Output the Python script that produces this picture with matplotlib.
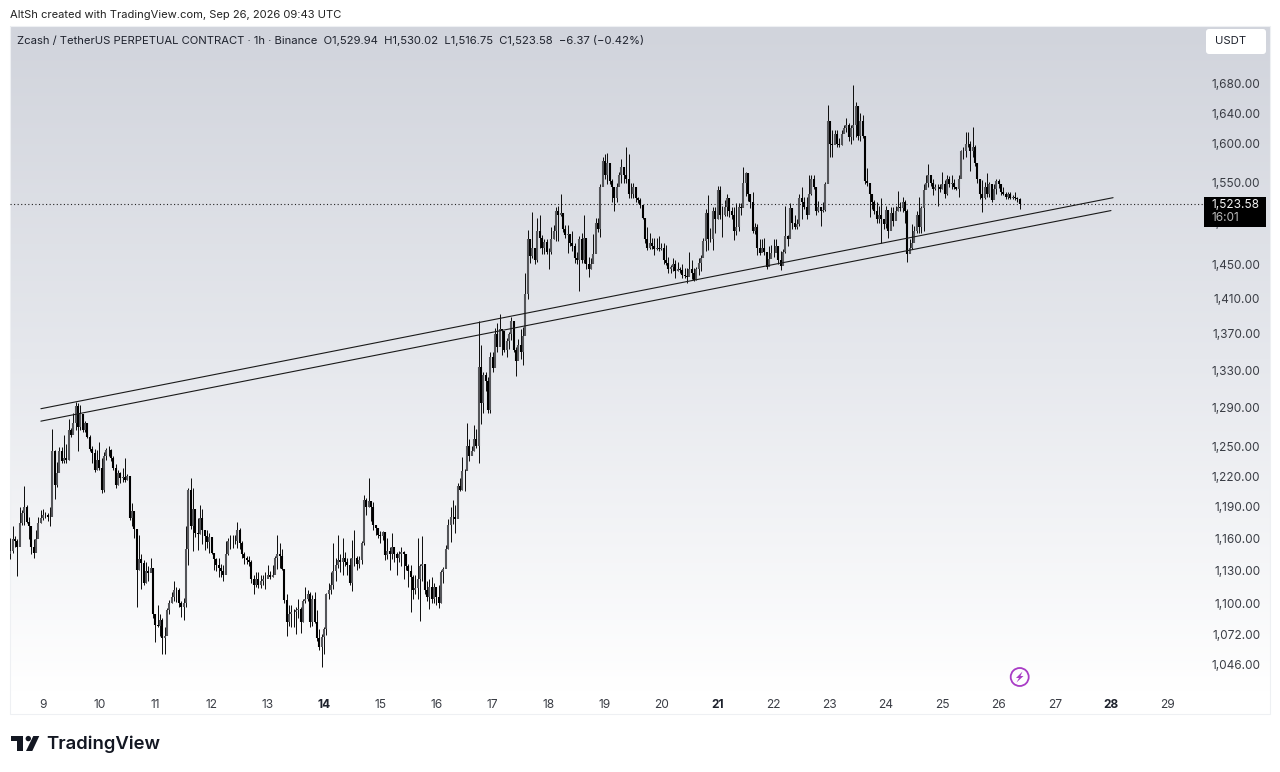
import numpy as np
import matplotlib
matplotlib.use("Agg")
import matplotlib.pyplot as plt
from matplotlib.patches import Polygon, Circle, FancyBboxPatch, Rectangle
from matplotlib.transforms import Affine2D
from matplotlib.ticker import FixedLocator, FixedFormatter, NullLocator

closes = [
 1148,1159,1157,1152,1174,1184,1190,1175,1171,1152,1146,1159,1174,1179,
 1182,1182,1180,1180,1245,1211,1223,1245,1235,1238,1236,1267,1262,1274,1292,1270,1283,1267,1274,1260,1247,1243,1226,1236,
 1228,1206,1240,1246,1246,1238,1228,1211,1223,1218,1219,1216,1220,1179,1186,1169,1130,1140,1137,1118,1129,1127,1132,1090,
 1081,1080,1085,1069,1071,1094,1100,1106,1112,1112,1100,1097,1100,1150,1206,1171,1188,1165,1164,1179,1168,1162,1156,1161,
 1146,1140,1135,1132,1129,1126,1145,1157,1157,1157,1157,1168,1155,1145,1141,1139,1138,1122,1116,1122,1116,1120,1122,1122,
 1126,1124,1126,1141,1145,1143,1131,1103,1083,1090,1092,1092,1094,1095,1083,1102,1104,1108,1083,1104,1083,1069,1061,1070,
 1077,1108,1112,1116,1129,1135,1139,1138,1141,1138,1135,1118,1141,1141,1136,1139,1155,1197,1190,1196,1190,1172,1170,1163,
 1162,1166,1144,1148,1145,1152,1145,1141,1145,1147,1145,1134,1129,1124,1112,1114,1122,1134,1136,1112,1106,1115,1104,1115,
 1106,1100,1128,1131,1150,1172,1180,1180,1178,1210,1206,1225,1225,1250,1240,1245,1258,1250,1334,1295,1325,1318,1288,1345,
 1332,1370,1355,1375,1373,1352,1362,1370,1385,1352,1340,1358,1350,1368,1415,1480,1460,1470,1455,1490,1482,1470,1477,1465,
 1465,1480,1490,1515,1510,1512,1492,1485,1486,1476,1472,1458,1455,1480,1455,1482,1450,1445,1450,1462,1500,1492,1545,1578,
 1560,1575,1552,1545,1530,1545,1560,1570,1560,1555,1535,1535,1545,1530,1528,1522,1506,1480,1470,1475,1472,1468,1470,1468,
 1470,1455,1452,1445,1447,1450,1442,1445,1443,1438,1436,1435,1445,1440,1432,1445,1452,1458,1478,1512,1480,1480,1515,1505,
 1540,1510,1510,1520,1530,1515,1510,1490,1495,1520,1518,1550,1562,1535,1525,1490,1495,1470,1463,1470,1465,1447,1456,1463,
 1463,1472,1455,1448,1465,1484,1480,1518,1500,1495,1498,1530,1525,1520,1510,1535,1555,1545,1515,1520,1515,1516,1548,1630,
 1600,1598,1612,1600,1598,1612,1620,1625,1608,1620,1625,1650,1610,1630,1610,1552,1550,1535,1525,1515,1505,1510,1505,1498,
 1516,1490,1512,1502,1515,1520,1518,1525,1515,1462,1470,1475,1490,1510,1495,1518,1540,1550,1560,1550,1542,1545,1545,1542,
 1548,1535,1555,1548,1550,1545,1542,1555,1590,1590,1600,1600,1590,1595,1575,1555,1535,1530,1545,1535,1548,1528,1542,1552,
 1548,1538,1536,1532,1535,1531,1532,1530,1529.94,1523.58,
]
highs = [
 1160,1171,1162,1159,1190,1187,1210,1192,1180,1160,1159,1168,1180,1187,
 1188,1185,1184,1190,1268,1246,1234,1249,1249,1262,1252,1278,1269,1285,1296,1295,1293,1281,1276,1272,1262,1250,1247,1246,
 1254,1238,1244,1248,1250,1247,1240,1232,1226,1224,1228,1238,1222,1220,1194,1186,1168,1163,1145,1139,1138,1134,1141,1132,
 1090,1098,1090,1087,1079,1096,1103,1110,1120,1115,1114,1102,1105,1171,1208,1218,1208,1188,1179,1192,1188,1168,1168,1165,
 1160,1143,1141,1141,1136,1135,1157,1160,1163,1163,1163,1175,1170,1157,1147,1143,1143,1139,1126,1128,1128,1126,1126,1128,
 1135,1129,1135,1143,1163,1155,1150,1131,1108,1098,1098,1095,1097,1104,1097,1104,1115,1112,1110,1107,1110,1094,1077,1073,
 1079,1109,1118,1128,1155,1141,1163,1145,1160,1147,1141,1141,1158,1168,1143,1143,1157,1201,1199,1218,1196,1195,1172,1168,
 1167,1167,1160,1160,1152,1165,1152,1147,1148,1152,1148,1137,1136,1135,1126,1126,1160,1136,1162,1130,1120,1122,1124,1118,
 1115,1116,1130,1133,1153,1178,1190,1197,1192,1213,1218,1239,1227,1274,1258,1250,1272,1268,1385,1358,1328,1328,1323,1350,
 1350,1377,1382,1393,1376,1367,1365,1372,1389,1384,1355,1364,1376,1378,1440,1491,1479,1513,1467,1506,1510,1485,1480,1480,
 1470,1495,1497,1519,1521,1535,1510,1497,1497,1484,1490,1475,1465,1484,1488,1510,1482,1459,1458,1486,1506,1506,1548,1582,
 1587,1588,1566,1555,1536,1550,1564,1580,1566,1595,1586,1550,1550,1542,1532,1530,1522,1505,1495,1488,1482,1482,1482,1484,
 1475,1475,1473,1459,1449,1457,1455,1453,1447,1451,1446,1446,1465,1455,1446,1447,1457,1461,1481,1517,1534,1494,1519,1519,
 1546,1546,1521,1528,1536,1528,1519,1519,1524,1524,1524,1570,1564,1562,1536,1538,1500,1498,1480,1480,1482,1461,1472,1473,
 1480,1480,1468,1466,1468,1521,1485,1524,1515,1509,1505,1535,1545,1532,1532,1560,1560,1560,1543,1527,1520,1526,1551,1651,
 1630,1618,1618,1618,1607,1618,1625,1634,1627,1625,1678,1655,1650,1640,1638,1608,1568,1543,1532,1528,1526,1521,1530,1503,
 1521,1513,1519,1519,1521,1539,1526,1532,1528,1517,1480,1498,1496,1515,1532,1521,1548,1560,1573,1555,1555,1548,1548,1548,
 1563,1553,1560,1558,1560,1555,1545,1560,1592,1596,1615,1615,1603,1622,1598,1573,1553,1553,1551,1562,1551,1534,1548,1555,
 1555,1548,1545,1538,1538,1538,1534,1538,1532,1530.02,
]
lows = [
 1140,1146,1152,1125,1171,1172,1172,1174,1159,1145,1141,1154,1163,1174,
 1177,1179,1176,1171,1185,1198,1209,1228,1233,1233,1233,1236,1260,1265,1267,1245,1267,1265,1265,1259,1245,1233,1224,1226,
 1226,1203,1204,1236,1240,1235,1226,1208,1211,1213,1214,1214,1216,1177,1171,1160,1097,1130,1113,1116,1118,1120,1130,1087,
 1066,1079,1071,1055,1055,1075,1090,1100,1102,1101,1097,1088,1085,1097,1135,1169,1148,1161,1149,1164,1154,1149,1151,1146,
 1145,1130,1129,1124,1124,1120,1130,1144,1150,1151,1154,1151,1150,1141,1136,1136,1134,1118,1108,1115,1114,1114,1116,1113,
 1124,1122,1124,1132,1131,1132,1130,1100,1071,1080,1079,1079,1073,1087,1074,1083,1100,1102,1079,1080,1082,1067,1059,1044,
 1055,1072,1104,1108,1113,1120,1132,1128,1126,1134,1126,1116,1111,1134,1130,1132,1136,1153,1182,1190,1176,1168,1163,1160,
 1155,1158,1139,1140,1130,1140,1138,1126,1138,1134,1122,1130,1115,1092,1104,1108,1104,1084,1120,1108,1102,1095,1100,1100,
 1098,1096,1100,1118,1134,1150,1156,1173,1165,1200,1205,1206,1205,1232,1235,1243,1245,1248,1233,1273,1285,1308,1285,1285,
 1328,1335,1350,1372,1347,1350,1345,1353,1363,1350,1324,1345,1342,1336,1370,1410,1452,1458,1450,1453,1470,1462,1462,1462,
 1445,1462,1480,1478,1478,1508,1489,1481,1464,1472,1466,1452,1450,1419,1452,1452,1445,1435,1445,1455,1465,1489,1483,1548,
 1555,1548,1548,1526,1515,1526,1546,1550,1550,1550,1530,1530,1530,1526,1524,1518,1505,1475,1467,1468,1468,1461,1467,1466,
 1467,1451,1449,1440,1440,1442,1434,1442,1440,1434,1434,1428,1438,1433,1430,1432,1437,1442,1459,1466,1467,1477,1467,1487,
 1505,1505,1483,1508,1508,1507,1505,1479,1485,1490,1510,1520,1533,1527,1518,1487,1486,1461,1461,1466,1461,1444,1452,1458,
 1459,1468,1451,1443,1455,1464,1472,1488,1492,1492,1492,1496,1505,1517,1505,1530,1534,1542,1510,1513,1496,1513,1515,1550,
 1582,1582,1605,1596,1596,1598,1615,1615,1603,1600,1605,1608,1605,1604,1607,1548,1546,1507,1517,1511,1500,1500,1476,1492,
 1494,1482,1492,1496,1507,1515,1515,1513,1500,1453,1466,1468,1484,1488,1488,1488,1490,1542,1544,1546,1534,1540,1521,1538,
 1542,1530,1534,1544,1542,1542,1540,1532,1558,1580,1582,1596,1565,1582,1571,1550,1529,1513,1529,1532,1532,1525,1529,1536,
 1543,1534,1534,1529,1529,1529,1529,1528,1526,1516.75,
]
first_open = 1145
hours_before_day9 = 14

price_ticks = [1680, 1640, 1600, 1550, 1500, 1450, 1410, 1370, 1330, 1290, 1250, 1220, 1190, 1160, 1130, 1100, 1072, 1046]
day_labels = [9, 10, 11, 12, 13, 14, 15, 16, 17, 18, 19, 20, 21, 22, 23, 24, 25, 26, 27, 28, 29]
bold_days = [14, 21, 28]
upper_trend_hours = [-0.9, 456.9]
upper_trend_prices = [1289, 1531]
lower_trend_hours = [-0.9, 456.0]
lower_trend_prices = [1276, 1515]
last_price = 1523.58

W, H = 1280, 772
fig = plt.figure(figsize=(W/100, H/100), dpi=100, facecolor="white")
plt.rcParams["font.family"] = ["Inter", "DejaVu Sans"]
px = Affine2D().scale(1/W, -1/H).translate(0, 1) + fig.transFigure

rect = [10/W, 1-714/H, 1260/W, 688/H]
bg = fig.add_axes(rect, zorder=0)
grad = np.linspace(0, 1, 256)[:, None]
bg.imshow(grad, aspect="auto", cmap=matplotlib.colors.LinearSegmentedColormap.from_list(
    "g", ["#d1d4dc", "#e6e8ed", "#ffffff"]), extent=(0, 1, 0, 1), vmin=0, vmax=0.97)
bg.axis("off")

ax = fig.add_axes(rect, zorder=1, facecolor="none")
ax.set_yscale("log")
ax.set_xlim(-14.09, 523.9)
ax.set_ylim(1005, 1761)

closes_a = np.array(closes, float)
highs_a = np.array(highs, float)
lows_a = np.array(lows, float)
opens_a = np.r_[first_open, closes_a[:-1]]
x = np.arange(len(closes_a)) - hours_before_day9

up = closes_a >= opens_a
ax.vlines(x, lows_a, highs_a, color="#111111", lw=0.72, zorder=3)
ax.vlines(x[up], opens_a[up], closes_a[up], color="#55565a", lw=1.5, zorder=3.1)
ax.vlines(x[~up], closes_a[~up], opens_a[~up], color="#000000", lw=1.5, zorder=3.2)

ax.plot(upper_trend_hours, upper_trend_prices, color="#1a1a1a", lw=0.8, zorder=4, solid_capstyle="round")
ax.plot(lower_trend_hours, lower_trend_prices, color="#1a1a1a", lw=0.8, zorder=4, solid_capstyle="round")
ax.plot([-14.09, (1203-43)/2.342], [last_price, last_price], color="#222222", lw=0.8, ls=(0, (1, 2.2)), zorder=2)

for s in ax.spines.values():
    s.set_visible(False)
ax.yaxis.tick_right()
ax.yaxis.set_major_locator(FixedLocator(price_ticks))
ax.yaxis.set_major_formatter(FixedFormatter([f"{p:,.2f}" for p in price_ticks]))
ax.yaxis.set_minor_locator(NullLocator())
ax.tick_params(axis="y", length=0, pad=-7.0, labelsize=8.55, labelcolor="#3a3d45")
for t in ax.get_yticklabels():
    t.set_ha("right")
    t.set_va("center_baseline")

day_hours = [(d - 9) * 24 for d in day_labels]
ax.xaxis.set_major_locator(FixedLocator(day_hours))
ax.xaxis.set_major_formatter(FixedFormatter([str(d) for d in day_labels]))
ax.tick_params(axis="x", length=0, pad=-11.0, labelsize=8.6, labelcolor="#3a3d45")
for t, d in zip(ax.get_xticklabels(), day_labels):
    if d in bold_days:
        t.set_fontweight("bold")
        t.set_color("#1e222d")

# pane border
fig.add_artist(Rectangle((10, 26), 1260, 688, transform=px, fill=False, ec="#eef0f3", lw=0.8))

# header
fig.text(10, 14.5, "AltSh created with TradingView.com, Sep 26, 2026 09:43 UTC", transform=px,
         fontsize=8.05, color="#222222", va="center", ha="left")
fig.text(17, 40, "Zcash / TetherUS PERPETUAL CONTRACT \u00b7 1h \u00b7 Binance  O1,529.94  H1,530.02  L1,516.75  C1,523.58  \u22126.37 (\u22120.42%)",
         transform=px, fontsize=8.12, color="#1e222d", va="center", ha="left", zorder=5)

# USDT button
fig.add_artist(FancyBboxPatch((1209, 32), 54, 19, boxstyle="round,pad=3", transform=px, fc="white", ec="none", zorder=5))
fig.text(1215, 41, "USDT", transform=px, fontsize=8.2, color="#1e222d", va="center", ha="left", zorder=6)

# last price tag
fig.add_artist(Rectangle((1204, 197), 62, 30, transform=px, fc="#000000", ec="none", zorder=5))
fig.text(1212, 205, "1,523.58", transform=px, fontsize=8.55, color="#f2f2f2", va="center", ha="left", zorder=6)
fig.text(1212, 218, "16:01", transform=px, fontsize=8.55, color="#b8b8b8", va="center", ha="left", zorder=6)

# lightning badge
fig.add_artist(Circle((1019.7, 677), 9.0, transform=px, fc="none", ec="#a93cc6", lw=1.3, zorder=5))
fig.add_artist(Polygon([(1022.5, 671.5), (1016, 678), (1019, 678), (1016.5, 682.5), (1023.5, 676), (1020.5, 676)],
                       closed=True, transform=px, fc="#a93cc6", ec="none", zorder=5))

# TradingView logo
logo = "#131722"
fig.add_artist(Polygon([(11, 736), (23.3, 736), (23.3, 751), (17.3, 751), (17.3, 741), (11, 741)],
                       closed=True, transform=px, fc=logo, ec="none"))
fig.add_artist(Circle((28.3, 738.6), 2.7, transform=px, fc=logo, ec="none"))
fig.add_artist(Polygon([(33.3, 736), (39.3, 736), (32.3, 751), (26, 751)], closed=True, transform=px, fc=logo, ec="none"))
fig.text(46, 744, "TradingView", transform=px, fontsize=13.3, fontweight="semibold", color=logo, va="center", ha="left")

fig.savefig("out.png", dpi=100, facecolor="white")
